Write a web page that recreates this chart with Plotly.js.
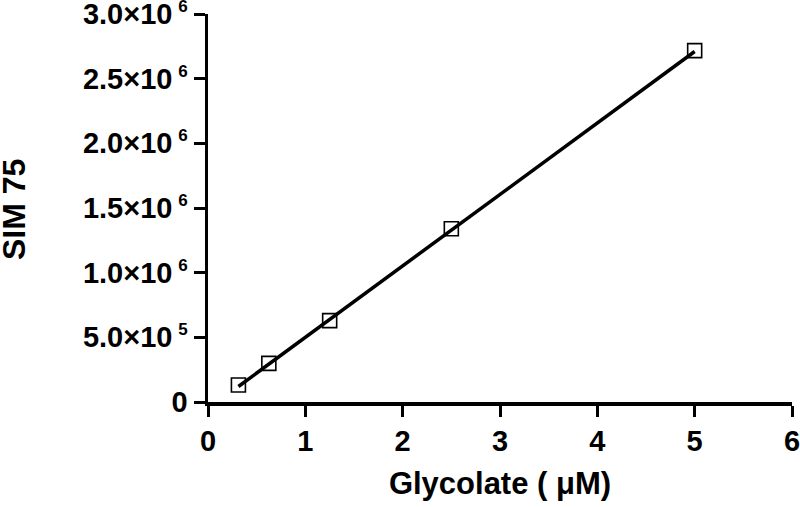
<!DOCTYPE html>
<html>
<head>
<meta charset="utf-8">
<script src="https://cdn.plot.ly/plotly-3.0.1.min.js"></script>
<style>
  html, body { margin: 0; padding: 0; background: #fff; }
  #chart { width: 800px; height: 507px; }
</style>
</head>
<body>
<div id="chart"></div>
<script>
// standards (glycolate concentration, uM) and SIM 75 peak area
const conc = [0.3125, 0.625, 1.25, 2.5, 5];
const sim75 = [131000, 299000, 629000, 1340000, 2717000];

// regression line (end points)
const fitX = [0.3125, 5];
const fitY = [120000, 2710000];

const yTickVals = [0, 500000, 1000000, 1500000, 2000000, 2500000, 3000000];
const yMant = ['0', '5.0', '1.0', '1.5', '2.0', '2.5', '3.0'];
const yExp = [null, 5, 6, 6, 6, 6, 6];
const xTickVals = [0, 1, 2, 3, 4, 5, 6];

const FONT = 'Liberation Sans, Arial, sans-serif';

// "m×10^e" labels, small raised exponent
var yTickText = yMant.map(function(m, i) {
  if (yExp[i] === null) return m;
  return m + '×10\u2009<sup><span style="font-size:17px;font-weight:bold">' + yExp[i] + '</span></sup>';
});

var data = [{
  x: fitX,
  y: fitY,
  mode: 'lines',
  line: { color: '#000', width: 3.5 },
  hoverinfo: 'skip',
  type: 'scatter'
}, {
  x: conc,
  y: sim75,
  mode: 'markers',
  marker: {
    symbol: 'square-open',
    size: 14,
    color: '#000',
    line: { color: '#000', width: 1.6 }
  },
  type: 'scatter'
}];

var layout = {
  width: 800,
  height: 507,
  showlegend: false,
  paper_bgcolor: '#fff',
  plot_bgcolor: '#fff',
  margin: { l: 208, r: 8, t: 14, b: 105 },
  font: { family: FONT, size: 29, color: '#000', weight: 'bold' },
  xaxis: {
    range: [0, 6],
    tickvals: xTickVals,
    ticks: 'outside',
    ticklen: 11,
    tickwidth: 3,
    tickcolor: '#000',
    showline: true,
    linewidth: 3.5,
    linecolor: '#000',
    showgrid: false,
    zeroline: false,
    ticklabeloverflow: 'allow',
    tickfont: { family: FONT, size: 29, weight: 'bold' },
    title: { text: 'Glycolate ( μM)', font: { family: FONT, size: 31, weight: 'bold' }, standoff: 17 }
  },
  yaxis: {
    range: [0, 3000000],
    tickvals: yTickVals,
    ticktext: yTickText,
    ticks: 'outside',
    ticklen: 11,
    tickwidth: 3,
    tickcolor: '#000',
    showline: true,
    linewidth: 3.5,
    linecolor: '#000',
    showgrid: false,
    zeroline: false,
    ticklabeloverflow: 'allow',
    tickfont: { family: FONT, size: 29, weight: 'bold' }
  },
  // y title as annotation so it can sit right at the left edge
  annotations: [{
    text: 'SIM 75',
    xref: 'paper', yref: 'paper',
    x: 0, y: 0.5,
    xanchor: 'center', yanchor: 'middle',
    xshift: -194, yshift: -2,
    textangle: -90,
    showarrow: false,
    font: { family: FONT, size: 32, weight: 'bold', color: '#000' }
  }]
};

Plotly.newPlot('chart', data, layout, { displayModeBar: false, staticPlot: true });
</script>
</body>
</html>
